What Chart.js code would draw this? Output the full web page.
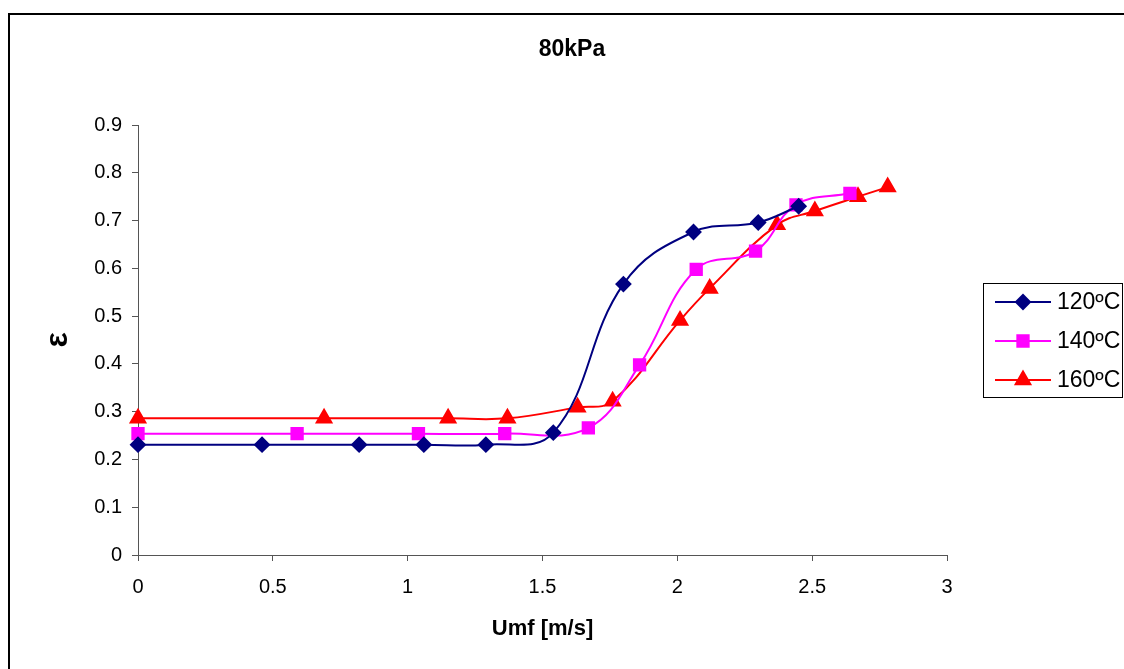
<!DOCTYPE html>
<html>
<head>
<meta charset="utf-8">
<script src="https://cdn.jsdelivr.net/npm/chart.js@4"></script>
<style>
  html, body { margin: 0; padding: 0; background: #fff; overflow: hidden; }
  #myChart { display: block; }
</style>
</head>
<body>
<canvas id="myChart" width="1124" height="669"></canvas>
<script>
// values
const labels = ["120ºC", "140ºC", "160ºC"];

const u120 = [0, 0.46, 0.82, 1.06, 1.29, 1.54, 1.80, 2.06, 2.30, 2.45];
const e120 = [0.231, 0.231, 0.231, 0.231, 0.231, 0.256, 0.567, 0.676, 0.696, 0.730];

const u140 = [0, 0.59, 1.04, 1.36, 1.67, 1.86, 2.07, 2.29, 2.44, 2.64];
const e140 = [0.254, 0.254, 0.254, 0.254, 0.266, 0.398, 0.598, 0.636, 0.733, 0.757];

const u160 = [0, 0.69, 1.15, 1.37, 1.63, 1.76, 2.01, 2.12, 2.37, 2.51, 2.67, 2.78];
const e160 = [0.286, 0.286, 0.286, 0.286, 0.309, 0.322, 0.491, 0.558, 0.691, 0.720, 0.750, 0.770];

const xTicks = [0, 0.5, 1, 1.5, 2, 2.5, 3];
const yTicks = [0, 0.1, 0.2, 0.3, 0.4, 0.5, 0.6, 0.7, 0.8, 0.9];

const toPoints = (xs, ys) => xs.map((x, i) => ({ x: x, y: ys[i] }));

const FONT = "'Liberation Sans', Arial, sans-serif";
const AXIS = "#555";

// outer frame (only top and left edge are visible) + title over the whole chart
const framePlugin = {
  id: "frame",
  beforeDraw: chart => {
    const ctx = chart.ctx;
    ctx.save();
    ctx.strokeStyle = "#000";
    ctx.lineWidth = 2;
    ctx.beginPath();
    ctx.moveTo(9, 700);
    ctx.lineTo(9, 14);
    ctx.lineTo(1130, 14);
    ctx.stroke();
    ctx.fillStyle = "#000";
    ctx.font = "bold 23px " + FONT;
    ctx.textAlign = "center";
    ctx.textBaseline = "middle";
    ctx.fillText("80kPa", 572, 50);
    ctx.restore();
  }
};

// Excel style legend: line with marker, boxed, right of plot
const legendPlugin = {
  id: "boxLegend",
  afterDraw: chart => {
    const ctx = chart.ctx;
    ctx.save();
    ctx.strokeStyle = "#000";
    ctx.lineWidth = 1;
    ctx.strokeRect(983.5, 283.5, 139, 114);
    chart.data.datasets.forEach((ds, i) => {
      const y = 302 + i * 39;
      ctx.strokeStyle = ds.borderColor;
      ctx.lineWidth = 2;
      ctx.beginPath();
      ctx.moveTo(995, y);
      ctx.lineTo(1051, y);
      ctx.stroke();
      ctx.fillStyle = ds.pointBackgroundColor;
      ctx.strokeStyle = ds.pointBorderColor;
      Chart.helpers.drawPoint(ctx, {
        pointStyle: ds.pointStyle,
        radius: ds.pointRadius,
        rotation: 0,
        borderWidth: 1
      }, 1023, y);
      ctx.fillStyle = "#000";
      ctx.font = "23px " + FONT;
      ctx.textAlign = "left";
      ctx.textBaseline = "middle";
      ctx.fillText(ds.label, 1057, y + 1);
    });
    ctx.restore();
  }
};

const makeSet = (label, xs, ys, color, style, radius) => ({
  label: label,
  data: toPoints(xs, ys),
  borderColor: color,
  backgroundColor: color,
  pointBackgroundColor: color,
  pointBorderColor: color,
  pointStyle: style,
  pointRadius: radius,
  pointHoverRadius: radius,
  borderWidth: 2,
  tension: 0.4,
  clip: false
});

const drawCanvas = () => {
  const ctx = document.getElementById("myChart").getContext("2d");

  new Chart(ctx, {
    type: "line",
    data: {
      datasets: [
        makeSet(labels[0], u120, e120, "#000080", "rectRot", 7),
        makeSet(labels[1], u140, e140, "#FF00FF", "rect", 8),
        makeSet(labels[2], u160, e160, "#FF0000", "triangle", 8.5)
      ]
    },
    options: {
      responsive: false,
      animation: false,
      events: [],
      layout: { padding: { left: 0, right: 177, top: 125, bottom: 0 } },
      plugins: {
        legend: { display: false },
        tooltip: { enabled: false },
        title: { display: false }
      },
      scales: {
        x: {
          type: "linear",
          min: xTicks[0],
          max: xTicks[xTicks.length - 1],
          afterBuildTicks: scale => {
            scale.ticks = xTicks.map(v => ({ value: v }));
          },
          afterFit: scale => {
            scale.height = 114;
          },
          border: { display: true, color: AXIS, width: 1 },
          grid: { drawOnChartArea: false, drawTicks: true, tickLength: 6, color: AXIS },
          ticks: {
            color: "#000",
            font: { family: FONT, size: 20 },
            padding: 14,
            maxRotation: 0,
            callback: v => String(v)
          },
          title: {
            display: true,
            text: "Umf [m/s]",
            color: "#000",
            font: { family: FONT, size: 22, weight: "bold" },
            padding: { top: 0, bottom: 27 }
          }
        },
        y: {
          type: "linear",
          min: yTicks[0],
          max: yTicks[yTicks.length - 1],
          afterBuildTicks: scale => {
            scale.ticks = yTicks.map(v => ({ value: v }));
          },
          afterFit: scale => {
            scale.width = 138;
          },
          border: { display: true, color: AXIS, width: 1 },
          grid: { drawOnChartArea: false, drawTicks: true, tickLength: 6, color: AXIS },
          ticks: {
            color: "#000",
            font: { family: FONT, size: 20 },
            padding: 10,
            callback: v => String(Math.round(v * 10) / 10)
          },
          title: {
            display: true,
            text: "ε",
            color: "#000",
            font: { family: FONT, size: 32, weight: "bold" },
            padding: { top: 39, bottom: 0 }
          }
        }
      }
    },
    plugins: [framePlugin, legendPlugin]
  });
};

drawCanvas();
</script>
</body>
</html>
